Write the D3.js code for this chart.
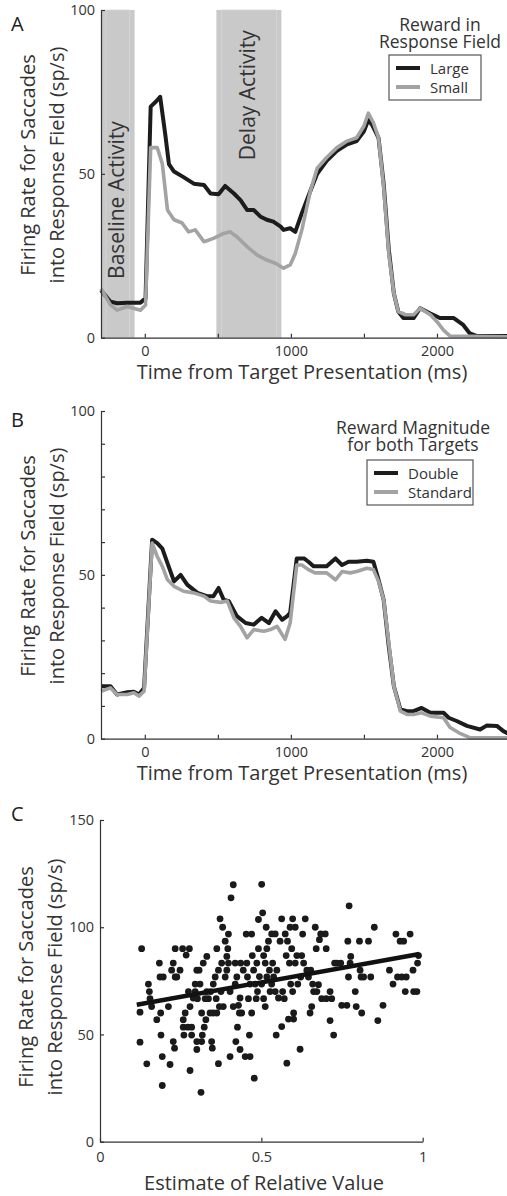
<!DOCTYPE html>
<html>
<head>
<meta charset="utf-8">
<script src="https://cdn.jsdelivr.net/npm/d3@7"></script>
<style>
  body { margin: 0; background: #fff; }
  svg { display: block; font-family: "Open Sans", sans-serif; }
  .axis path, .axis line { stroke: #333; stroke-width: 1.2; }
  .axis text { font-size: 14.5px; fill: #333; font-family: "Open Sans", sans-serif; }
</style>
</head>
<body>
<svg id="chart" width="507" height="1196"></svg>
<script>
// Panel A: firing rate (sp/s) over time (ms), reward in response field
const largeA = [[-300,14.5],[-235,11],[-190,10.5],[-120,10.7],[-30,10.7],[5,12],[40,70.5],[75,72],[105,73.5],[140,62],[165,53],[200,50.7],[265,49],[335,47],[405,46.6],[450,44],[505,43.8],[550,46.3],[610,44],[655,42],[700,39],[745,39],[790,37],[835,36],[880,35.4],[930,33.9],[950,32.9],[995,33.4],[1030,32.3],[1075,38],[1135,45],[1180,50],[1245,54],[1315,57],[1385,59],[1450,60],[1500,63],[1530,66.4],[1555,65],[1600,61],[1635,47],[1670,27],[1705,13.5],[1735,8],[1770,6],[1840,6],[1885,9],[1955,7.4],[2020,6],[2115,6],[2180,3.9],[2225,1.3],[2275,0.5],[2500,0.5]];
const smallA = [[-300,15],[-235,10],[-190,8.4],[-120,9.5],[-30,8.4],[5,10],[40,58],[85,58],[120,53],[155,39],[200,36],[255,35],[300,32.3],[345,32.9],[405,29.3],[470,30.3],[540,31.8],[585,32.3],[630,30.8],[700,27.8],[770,25.2],[835,23.7],[895,22.7],[950,21.2],[995,22.2],[1030,25.7],[1075,32.9],[1135,45],[1180,51.7],[1245,55],[1315,58],[1385,60],[1450,61],[1500,64.6],[1530,68.5],[1565,65.6],[1600,61],[1635,46],[1670,25.7],[1705,13.5],[1735,8],[1785,7],[1840,7],[1885,9],[1955,7],[2000,4.9],[2045,2.3],[2090,0.5],[2500,0.3]];
const bandsA = [
  { label: "Baseline Activity", from: -300, to: -70, labelAt: 42 },
  { label: "Delay Activity", from: 490, to: 935, labelAt: 74 }
];

// Panel B: reward magnitude for both targets
const doubleB = [[-300,16],[-235,16],[-190,13.5],[-120,14.2],[-75,14.3],[-40,13.5],[-5,15.5],[50,60.7],[85,59.7],[120,58],[155,53.6],[200,48],[245,50],[290,47],[360,44.5],[425,43.5],[470,43.5],[505,46],[540,42.4],[575,42],[630,37.4],[690,35.3],[745,34.8],[800,36.9],[850,35.3],[895,38.9],[940,36.3],[975,37.4],[995,38.4],[1040,55],[1090,55],[1120,54],[1155,52.6],[1245,52.6],[1305,55],[1350,53],[1395,54],[1450,54],[1520,54.3],[1565,54],[1600,48.5],[1635,42.4],[1670,28.2],[1705,16],[1750,8.9],[1795,8.4],[1840,8.4],[1895,9.4],[1955,7.9],[2045,7.9],[2080,6.4],[2135,5.4],[2205,3.9],[2295,2.8],[2340,4],[2410,3.9],[2455,2.3],[2500,1.3]];
const standardB = [[-300,14.5],[-235,15.5],[-190,13.5],[-120,13.5],[-75,14],[-40,13],[-5,14.5],[50,59.7],[85,55.6],[120,52.6],[155,48.5],[200,46.5],[265,45],[335,44.5],[405,43.5],[450,42],[520,41.6],[565,42],[610,36.9],[655,34.3],[700,30.8],[745,33.3],[815,32.8],[860,33.3],[905,34.3],[960,30.3],[995,35.3],[1040,53],[1075,53],[1120,51.6],[1165,50.6],[1245,50.6],[1305,48.5],[1350,51],[1405,50.6],[1450,51],[1520,52],[1565,51.6],[1600,48],[1635,42.4],[1670,29.2],[1705,16],[1750,8.4],[1795,7.4],[1840,7.4],[1895,7.9],[1955,6.9],[2045,6.4],[2090,3.4],[2150,1.8],[2225,0.3],[2500,0.3]];

// Panel C: firing rate vs estimate of relative value
const relValue = [0.129,0.124,0.124,0.145,0.150,0.153,0.155,0.160,0.176,0.184,0.186,0.188,0.189,0.193,0.193,0.196,0.212,0.217,0.222,0.227,0.227,0.231,0.233,0.233,0.238,0.248,0.256,0.258,0.258,0.260,0.264,0.267,0.272,0.274,0.277,0.279,0.279,0.284,0.284,0.289,0.295,0.295,0.300,0.300,0.300,0.302,0.307,0.310,0.313,0.315,0.315,0.317,0.320,0.323,0.326,0.328,0.331,0.331,0.336,0.341,0.343,0.346,0.348,0.351,0.351,0.357,0.360,0.362,0.362,0.367,0.367,0.370,0.372,0.375,0.377,0.380,0.382,0.388,0.388,0.393,0.393,0.396,0.398,0.398,0.403,0.403,0.406,0.413,0.413,0.419,0.419,0.421,0.424,0.426,0.429,0.432,0.434,0.434,0.436,0.439,0.444,0.450,0.453,0.455,0.457,0.460,0.463,0.465,0.465,0.470,0.470,0.472,0.476,0.478,0.481,0.484,0.486,0.488,0.491,0.491,0.494,0.501,0.501,0.504,0.507,0.507,0.512,0.512,0.515,0.517,0.517,0.522,0.525,0.527,0.532,0.532,0.535,0.538,0.543,0.543,0.546,0.548,0.553,0.558,0.563,0.563,0.566,0.571,0.574,0.577,0.579,0.581,0.584,0.587,0.589,0.591,0.594,0.597,0.597,0.600,0.600,0.605,0.605,0.610,0.613,0.620,0.622,0.625,0.628,0.631,0.636,0.641,0.646,0.651,0.653,0.656,0.659,0.662,0.667,0.670,0.672,0.677,0.680,0.684,0.687,0.698,0.701,0.701,0.713,0.713,0.718,0.724,0.727,0.734,0.746,0.749,0.765,0.768,0.770,0.772,0.775,0.777,0.791,0.794,0.804,0.806,0.809,0.811,0.817,0.832,0.839,0.850,0.861,0.877,0.897,0.908,0.917,0.922,0.930,0.935,0.941,0.946,0.949,0.961,0.970,0.972,0.982,0.984,0.987];
const firingRate = [90,60.4,46.4,36.3,73.5,70,66.7,63,56.9,83.3,76.8,60,49.7,39.7,26.2,76.8,63,36,80,83.3,46.7,43.6,90,76.8,76.8,80,90,56.9,53.4,49.7,60,87,53.4,70,90,33.2,63,53.4,49.7,67,70,73.5,80,46.7,43,66.7,80,73.5,23,60,46.7,49.7,83.3,53.4,66.7,56.9,70,86.4,66.7,60,70,46.7,43.6,73.5,60,76.8,66.7,90,60,80,36.4,63,103.9,70,83.3,100,63,76.8,93.5,86.4,80,90,96.8,83.3,39.7,70,113.7,119.8,63,83.3,73.5,46.7,76.8,53.4,63.6,60,67,43,83.3,60,80,39.7,96.8,83.3,76.8,66.7,49.7,73.5,39.7,96.8,60,86.8,80,29.6,73.5,66.7,83.3,70,90,103.6,77,120,73.5,106.7,86.8,66.7,83.3,63,100,90,76.8,93.5,80,70,96.9,73.5,83.3,76.8,96.9,70,49.7,80,67,93.5,103.9,53.7,70,66.7,96.9,86.8,36.6,93.5,57.2,83.3,100,73.5,90,103.9,70,57.2,60,100,83.3,86.8,73.5,43.1,76.8,86.8,96.8,83.3,103.9,80,76.8,60,80,63,73.5,70,100,90,70,73.2,94.2,96.9,66.7,96.9,66.7,90,70,56.5,66.7,49.7,83.3,83.3,83.3,63.6,63.6,93.5,76.8,110,83.3,86.4,70,63,93.5,80,76.8,60,76.8,93.5,76.8,100,56.5,63.6,80,73.5,96.8,76.8,93.5,76.8,93.5,70,76.8,96.8,80,70,70,83.3,86.8];
const fitIntercept = 60.8;
const fitSlope = 27;
const fitRange = [0.114, 0.99];

const svg = d3.select("#chart");
const darkLine = "#1c1c1c";
const greyLine = "#a3a3a3";
const textColor = "#333";

const addPanelLetter = (letter, x, y) => {
    svg.append("text")
        .attr("x", x).attr("y", y)
        .attr("font-size", 20)
        .attr("fill", "#222")
        .text(letter);
};

const addYLabel = (cx, cy) => {
    const lines = ["Firing Rate for Saccades", "into Response Field (sp/s)"];
    lines.forEach((t, i) => {
        svg.append("text")
            .attr("transform", `translate(${cx + i * 29},${cy}) rotate(-90)`)
            .attr("text-anchor", "middle")
            .attr("dominant-baseline", "central")
            .attr("font-size", 20)
            .attr("fill", textColor)
            .text(t);
    });
};

const drawLegend = (title, entries, cx, titleY, box) => {
    // two-line title kept as one text element
    const tt = svg.append("text")
        .attr("text-anchor", "middle")
        .attr("font-size", 17.5)
        .attr("fill", textColor);
    title.forEach((t, i) => {
        tt.append("tspan")
            .attr("x", cx).attr("y", titleY + i * 17)
            .text(t);
    });
    svg.append("rect")
        .attr("x", box.x).attr("y", box.y)
        .attr("width", box.w).attr("height", box.h)
        .attr("fill", "#fff")
        .attr("stroke", "#555")
        .attr("stroke-width", 1.2);
    entries.forEach((e, i) => {
        const ly = box.y + 13 + i * 19;
        svg.append("line")
            .attr("x1", box.x + 7).attr("x2", box.x + 31)
            .attr("y1", ly).attr("y2", ly)
            .attr("stroke", e.color)
            .attr("stroke-width", 4);
        svg.append("text")
            .attr("x", box.x + 41).attr("y", ly)
            .attr("dominant-baseline", "central")
            .attr("font-size", 15)
            .attr("fill", textColor)
            .text(e.label);
    });
};

const drawTimePanel = (top, seriesDark, seriesGrey, bands, yMinor) => {
    const x = d3.scaleLinear().domain([-300, 2500]).range([101, 510]);
    const y = d3.scaleLinear().domain([0, 100]).range([top + 327.7, top]);
    const g = svg.append("g");

    bands.forEach(b => {
        g.append("rect")
            .attr("x", x(b.from)).attr("y", y(100))
            .attr("width", x(b.to) - x(b.from))
            .attr("height", y(0) - y(100))
            .attr("fill", "#c9c9c9");
        g.append("rect")
            .attr("x", x(b.from) + 5).attr("y", y(100))
            .attr("width", x(b.to) - x(b.from) - 10)
            .attr("height", y(0) - y(100))
            .attr("fill", "none")
            .attr("stroke", "#d6d6d6")
            .attr("stroke-width", 0.8);
        g.append("text")
            .attr("transform", `translate(${(x(b.from) + x(b.to)) / 2 - 2},${y(b.labelAt)}) rotate(-90)`)
            .attr("text-anchor", "middle")
            .attr("dominant-baseline", "central")
            .attr("font-size", 21)
            .attr("fill", textColor)
            .text(b.label);
    });

    const line = d3.line().x(d => x(d[0])).y(d => y(d[1]));
    g.append("path").datum(seriesDark)
        .attr("d", line).attr("fill", "none")
        .attr("stroke", darkLine).attr("stroke-width", 4)
        .attr("stroke-linejoin", "round");
    g.append("path").datum(seriesGrey)
        .attr("d", line).attr("fill", "none")
        .attr("stroke", greyLine).attr("stroke-width", 3.6)
        .attr("stroke-linejoin", "round");

    svg.append("g").attr("class", "axis")
        .attr("transform", `translate(0,${y(0)})`)
        .call(d3.axisBottom(x)
            .tickValues([0, 500, 1000, 1500, 2000])
            .tickFormat(d => d % 1000 === 0 ? d : "")
            .tickSizeInner(-4).tickSizeOuter(0).tickPadding(8));

    const yTicks = yMinor ? d3.range(0, 101, 10) : [0, 50, 100];
    svg.append("g").attr("class", "axis")
        .attr("transform", `translate(${x(-300)},0)`)
        .call(d3.axisLeft(y)
            .tickValues(yTicks)
            .tickFormat(d => d % 50 === 0 ? d : "")
            .tickSizeInner(-4).tickSizeOuter(0).tickPadding(6));

    svg.append("text")
        .attr("x", 302).attr("y", y(0) + 41)
        .attr("text-anchor", "middle")
        .attr("font-size", 20)
        .attr("fill", textColor)
        .text("Time from Target Presentation (ms)");
};

// A
addPanelLetter("A", 11, 31);
drawTimePanel(10, largeA, smallA, bandsA, false);
addYLabel(27, 165);
drawLegend(["Reward in", "Response Field"],
    [{ label: "Large", color: darkLine }, { label: "Small", color: greyLine }],
    440, 31, { x: 389, y: 55, w: 92, h: 45 });

// B
addPanelLetter("B", 11, 427);
drawTimePanel(411, doubleB, standardB, [], true);
addYLabel(27, 566);
drawLegend(["Reward Magnitude", "for both Targets"],
    [{ label: "Double", color: darkLine }, { label: "Standard", color: greyLine }],
    413, 434, { x: 367, y: 460, w: 106, h: 45 });

// C
addPanelLetter("C", 11, 821);
const xC = d3.scaleLinear().domain([0, 1]).range([100, 422.7]);
const yC = d3.scaleLinear().domain([0, 150]).range([1141.7, 820]);
const points = relValue.map((v, i) => [v, firingRate[i]]);

svg.append("g").selectAll("circle")
    .data(points)
    .enter().append("circle")
    .attr("cx", d => xC(d[0]))
    .attr("cy", d => yC(d[1]))
    .attr("r", 3.4)
    .attr("fill", "#1a1a1a");

svg.append("line")
    .attr("x1", xC(fitRange[0])).attr("y1", yC(fitIntercept + fitSlope * fitRange[0]))
    .attr("x2", xC(fitRange[1])).attr("y2", yC(fitIntercept + fitSlope * fitRange[1]))
    .attr("stroke", "#111").attr("stroke-width", 4.5);

svg.append("g").attr("class", "axis")
    .attr("transform", `translate(0,${yC(0)})`)
    .call(d3.axisBottom(xC).tickValues([0, 0.5, 1])
        .tickFormat(d => d)
        .tickSizeInner(-4).tickSizeOuter(0).tickPadding(10));

svg.append("g").attr("class", "axis")
    .attr("transform", `translate(${xC(0)},0)`)
    .call(d3.axisLeft(yC).tickValues([0, 50, 100, 150])
        .tickSizeInner(-4).tickSizeOuter(0).tickPadding(6));

addYLabel(25, 977);
svg.append("text")
    .attr("x", 264).attr("y", 1190)
    .attr("text-anchor", "middle")
    .attr("font-size", 20)
    .attr("fill", textColor)
    .text("Estimate of Relative Value");
</script>
</body>
</html>
